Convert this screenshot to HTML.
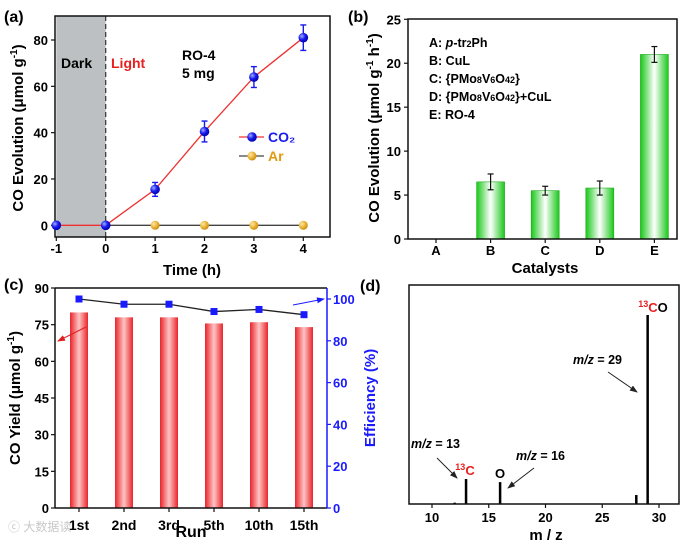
<!DOCTYPE html>
<html><head><meta charset="utf-8">
<style>
html,body{margin:0;padding:0;background:#fff;}
svg{display:block;font-family:"Liberation Sans",Arial,sans-serif;font-weight:bold;}
</style></head>
<body>
<svg id="fig" width="684" height="545" viewBox="0 0 684 545" xmlns="http://www.w3.org/2000/svg">
<defs>
<linearGradient id="gg" x1="0" x2="1" y1="0" y2="0">
<stop offset="0" stop-color="#19c819"/><stop offset="0.5" stop-color="#ffffff"/><stop offset="1" stop-color="#19c819"/>
</linearGradient>
<linearGradient id="rg" x1="0" x2="1" y1="0" y2="0">
<stop offset="0" stop-color="#e8242a"/><stop offset="0.5" stop-color="#ffc4c4"/><stop offset="1" stop-color="#e8242a"/>
</linearGradient>
<marker id="ar" markerWidth="8" markerHeight="6" refX="7" refY="3" orient="auto"><path d="M0,0 L8,3 L0,6 z" fill="#222"/></marker>
<marker id="arR" markerWidth="8" markerHeight="6" refX="7" refY="3" orient="auto"><path d="M0,0 L8,3 L0,6 z" fill="#e02020"/></marker>
<marker id="arB" markerWidth="8" markerHeight="6" refX="7" refY="3" orient="auto"><path d="M0,0 L8,3 L0,6 z" fill="#1a1aff"/></marker>
<radialGradient id="bb" cx="0.35" cy="0.35" r="0.7"><stop offset="0" stop-color="#9db0ff"/><stop offset="0.5" stop-color="#1a1aee"/><stop offset="1" stop-color="#0000aa"/></radialGradient>
<radialGradient id="ob" cx="0.35" cy="0.35" r="0.7"><stop offset="0" stop-color="#ffe9a8"/><stop offset="0.6" stop-color="#e8b030"/><stop offset="1" stop-color="#c68a10"/></radialGradient>
</defs>
<g id="pa"></g>
<g id="pb"></g>
<g id="pc"></g>
<g id="pd"></g>
</svg>
<script>
// Panel (a) data
const aTimes = [-1, 0, 1, 2, 3, 4];
const aCO2 = [0, 0, 15.5, 40.5, 64, 81];
const aCO2Err = [0, 0, 3, 4.5, 4.5, 5.5];
const aArTimes = [1, 2, 3, 4];
const aAr = [0, 0, 0, 0];
const aXTicks = [-1, 0, 1, 2, 3, 4];
const aYTicks = [0, 20, 40, 60, 80];
// Panel (b) data
const bCats = ["A", "B", "C", "D", "E"];
const bVals = [0, 6.5, 5.5, 5.8, 21];
const bErr = [0, 0.9, 0.5, 0.8, 0.9];
const bYTicks = [0, 5, 10, 15, 20, 25];
// Panel (c) data
const cRuns = ["1st", "2nd", "3rd", "5th", "10th", "15th"];
const cYield = [80, 78, 78, 75.5, 76, 74];
const cEff = [100, 97.5, 97.5, 94, 95, 92.5];
const cYTicks = [0, 15, 30, 45, 60, 75, 90];
const cY2Ticks = [0, 20, 40, 60, 80, 100];
// Panel (d) data
const dMz = [12, 13, 16, 28, 29];
const dInt = [0.006, 0.114, 0.10, 0.041, 0.863];
const dXTicks = [10, 15, 20, 25, 30];

const NS = "http://www.w3.org/2000/svg";
function mk(parent, tag, attrs, text) {
  const e = document.createElementNS(NS, tag);
  for (const k in attrs) e.setAttribute(k, attrs[k]);
  if (text !== undefined) e.textContent = text;
  parent.appendChild(e);
  return e;
}
function lin(d0, d1, r0, r1) { return v => r0 + (v - d0) * (r1 - r0) / (d1 - d0); }

// ---------- Panel A ----------
(function () {
  const g = document.getElementById('pa');
  const L = 55, R = 330, T = 16, B = 237;
  const x = lin(-1, 4, 56.3, 303.3), y = lin(0, 80, 225.3, 40);
  let e = mk(g, 'rect', { x: x(-1), y: T, width: x(0) - x(-1), height: B - T, fill: '#bcc0c2' });
   
  e = mk(g, 'line', { x1: x(0), x2: x(0), y1: T, y2: B, stroke: '#333', 'stroke-width': 1.2, 'stroke-dasharray': '5,3' });
   
  e = mk(g, 'rect', { x: L, y: T, width: R - L, height: B - T, fill: 'none', stroke: '#111', 'stroke-width': 1.5 });
   
  aXTicks.forEach(t => {
    mk(g, 'line', { x1: x(t), x2: x(t), y1: B, y2: B + 4, stroke: '#111', 'stroke-width': 1.2 });
    const tx = mk(g, 'text', { x: x(t), y: B + 16, 'font-size': 13, 'text-anchor': 'middle' }, t);
     
  });
  aYTicks.forEach(t => {
    mk(g, 'line', { x1: L - 4, x2: L, y1: y(t), y2: y(t), stroke: '#111', 'stroke-width': 1.2 });
    const tx = mk(g, 'text', { x: L - 7, y: y(t) + 5, 'font-size': 13, 'text-anchor': 'end' }, t);
     
  });
  let pts = [[0, 0]].concat(aArTimes.map((t, i) => [t, aAr[i]]));
  e = mk(g, 'polyline', { points: pts.map(p => x(p[0]) + ',' + y(p[1])).join(' '), fill: 'none', stroke: '#444', 'stroke-width': 1.3 });
   
  e = mk(g, 'polyline', { points: aTimes.map((t, i) => x(t) + ',' + y(aCO2[i])).join(' '), fill: 'none', stroke: '#f03030', 'stroke-width': 1.3 });
   
  aArTimes.forEach((t, i) => {
    const c = mk(g, 'circle', { cx: x(t), cy: y(aAr[i]), r: 4.5, fill: 'url(#ob)' });
     
  });
  aTimes.forEach((t, i) => {
    if (aCO2Err[i] > 0) {
      const cx = x(t), y1 = y(aCO2[i] + aCO2Err[i]), y2 = y(aCO2[i] - aCO2Err[i]);
      mk(g, 'line', { x1: cx, x2: cx, y1: y1, y2: y2, stroke: '#1a1aee', 'stroke-width': 1.4 });
      mk(g, 'line', { x1: cx - 3, x2: cx + 3, y1: y1, y2: y1, stroke: '#1a1aee', 'stroke-width': 1.4 });
      mk(g, 'line', { x1: cx - 3, x2: cx + 3, y1: y2, y2: y2, stroke: '#1a1aee', 'stroke-width': 1.4 });
    }
    const c = mk(g, 'circle', { cx: x(t), cy: y(aCO2[i]), r: 4.8, fill: 'url(#bb)' });
     
  });
  mk(g, 'line', { x1: 239, x2: 264, y1: 137, y2: 137, stroke: '#f03030', 'stroke-width': 1.3 });
  mk(g, 'circle', { cx: 252, cy: 137, r: 4.8, fill: 'url(#bb)' });
  e = mk(g, 'text', { x: 268, y: 142, 'font-size': 14, fill: '#1a1aee' }, 'CO₂');
   
  mk(g, 'line', { x1: 239, x2: 264, y1: 156, y2: 156, stroke: '#444', 'stroke-width': 1.3 });
  mk(g, 'circle', { cx: 252, cy: 156, r: 4.5, fill: 'url(#ob)' });
  e = mk(g, 'text', { x: 268, y: 161, 'font-size': 14, fill: '#e09a10' }, 'Ar');
   
  e = mk(g, 'text', { x: 61, y: 68, 'font-size': 14 }, 'Dark');  
  e = mk(g, 'text', { x: 111, y: 68, 'font-size': 14, fill: '#e82020' }, 'Light');  
  e = mk(g, 'text', { x: 182, y: 60, 'font-size': 14 }, 'RO-4');  
  e = mk(g, 'text', { x: 182, y: 78, 'font-size': 14 }, '5 mg');  
  e = mk(g, 'text', { x: 4, y: 22, 'font-size': 16 }, '(a)');  
  e = mk(g, 'text', { x: 192, y: 275, 'font-size': 15, 'text-anchor': 'middle' }, 'Time (h)');  
  e = mk(g, 'text', { x: 0, y: 0, 'font-size': 15, 'text-anchor': 'middle', transform: 'translate(23,128) rotate(-90)' });
  e.innerHTML = 'CO Evolution (μmol g<tspan dy="-6" font-size="10">-1</tspan><tspan dy="6">)</tspan>';
   
})();

// ---------- Panel B ----------
(function () {
  const g = document.getElementById('pb');
  const L = 408, R = 677, T = 19, B = 239;
  const y = lin(0, 25, 239, 19.3);
  const x = i => 436 + i * 54.6;
  let e;
  bVals.forEach((v, i) => {
    if (v > 0) {
      e = mk(g, 'rect', { x: x(i) - 14, y: y(v), width: 28, height: y(0) - y(v), fill: 'url(#gg)', stroke: '#22aa22', 'stroke-width': 0.6 });
       
      const y1 = y(v + bErr[i]), y2 = y(v - bErr[i]);
      mk(g, 'line', { x1: x(i), x2: x(i), y1: y1, y2: y2, stroke: '#111', 'stroke-width': 1.2 });
      mk(g, 'line', { x1: x(i) - 3, x2: x(i) + 3, y1: y1, y2: y1, stroke: '#111', 'stroke-width': 1.2 });
      mk(g, 'line', { x1: x(i) - 3, x2: x(i) + 3, y1: y2, y2: y2, stroke: '#111', 'stroke-width': 1.2 });
    }
    mk(g, 'line', { x1: x(i), x2: x(i), y1: B, y2: B + 4, stroke: '#111', 'stroke-width': 1.2 });
    e = mk(g, 'text', { x: x(i), y: B + 16, 'font-size': 13, 'text-anchor': 'middle' }, bCats[i]);
     
  });
  e = mk(g, 'rect', { x: L, y: T, width: R - L, height: B - T, fill: 'none', stroke: '#111', 'stroke-width': 1.5 });
   
  bYTicks.forEach(t => {
    mk(g, 'line', { x1: L - 4, x2: L, y1: y(t), y2: y(t), stroke: '#111', 'stroke-width': 1.2 });
    const tx = mk(g, 'text', { x: L - 7, y: y(t) + 5, 'font-size': 13, 'text-anchor': 'end' }, t);
     
  });
  const leg = ['A: <tspan font-style="italic">p</tspan>-tr<tspan font-size="9">2</tspan>Ph', 'B: CuL',
    'C: {PMo<tspan font-size="9">8</tspan>V<tspan font-size="9">6</tspan>O<tspan font-size="9">42</tspan>}',
    'D: {PMo<tspan font-size="9">8</tspan>V<tspan font-size="9">6</tspan>O<tspan font-size="9">42</tspan>}+CuL', 'E: RO-4'];
  leg.forEach((s, i) => {
    const t = mk(g, 'text', { x: 429, y: 47 + i * 18, 'font-size': 12.5 });
    t.innerHTML = s;
     
  });
  e = mk(g, 'text', { x: 348, y: 22, 'font-size': 16 }, '(b)');  
  e = mk(g, 'text', { x: 545, y: 273, 'font-size': 15, 'text-anchor': 'middle' }, 'Catalysts');  
  e = mk(g, 'text', { x: 0, y: 0, 'font-size': 15, 'text-anchor': 'middle', transform: 'translate(379,128) rotate(-90)' });
  e.innerHTML = 'CO Evolution (μmol g<tspan dy="-6" font-size="10">-1</tspan><tspan dy="6"> h</tspan><tspan dy="-6" font-size="10">-1</tspan><tspan dy="6">)</tspan>';
   
})();

// ---------- Panel C ----------
(function () {
  const g = document.getElementById('pc');
  const L = 55, R = 327, T = 288, B = 508;
  const y = lin(0, 90, 508, 288), y2 = lin(0, 100, 508, 299);
  const x = i => 79 + i * 45;
  let e;
  cYield.forEach((v, i) => {
    e = mk(g, 'rect', { x: x(i) - 9, y: y(v), width: 18, height: y(0) - y(v), fill: 'url(#rg)' });
     
    mk(g, 'line', { x1: x(i), x2: x(i), y1: B, y2: B + 4, stroke: '#111', 'stroke-width': 1.2 });
    const t = mk(g, 'text', { x: x(i), y: B + 22, 'font-size': 14, 'text-anchor': 'middle' }, cRuns[i]);
     
  });
  e = mk(g, 'polyline', { points: cEff.map((v, i) => x(i) + ',' + y2(v)).join(' '), fill: 'none', stroke: '#222', 'stroke-width': 1.3 });
   
  cEff.forEach((v, i) => {
    const r = mk(g, 'rect', { x: x(i) - 3.5, y: y2(v) - 3.5, width: 7, height: 7, fill: '#1a1aff' });
     
  });
  mk(g, 'line', { x1: L, x2: R, y1: B, y2: B, stroke: '#111', 'stroke-width': 1.5 });
  mk(g, 'line', { x1: L, x2: R, y1: T, y2: T, stroke: '#111', 'stroke-width': 1.5 });
  mk(g, 'line', { x1: L, x2: L, y1: T, y2: B, stroke: '#111', 'stroke-width': 1.5 });
  e = mk(g, 'line', { x1: R, x2: R, y1: T, y2: B, stroke: '#1a1aff', 'stroke-width': 1.5 });
   
  cYTicks.forEach(t => {
    mk(g, 'line', { x1: L - 4, x2: L, y1: y(t), y2: y(t), stroke: '#111', 'stroke-width': 1.2 });
    const tx = mk(g, 'text', { x: L - 6, y: y(t) + 5, 'font-size': 13, 'text-anchor': 'end' }, t);
     
  });
  cY2Ticks.forEach(t => {
    mk(g, 'line', { x1: R, x2: R + 4, y1: y2(t), y2: y2(t), stroke: '#1a1aff', 'stroke-width': 1.2 });
    const tx = mk(g, 'text', { x: R + 6, y: y2(t) + 5, 'font-size': 13, fill: '#1a1aff' }, t);
     
  });
  mk(g, 'line', { x1: 86, x2: 58, y1: 327, y2: 341, stroke: '#e02020', 'stroke-width': 1, 'marker-end': 'url(#arR)' });
  mk(g, 'line', { x1: 293, x2: 324, y1: 305, y2: 299, stroke: '#1a1aff', 'stroke-width': 1, 'marker-end': 'url(#arB)' });
  e = mk(g, 'text', { x: 4, y: 290, 'font-size': 16 }, '(c)');  
  e = mk(g, 'text', { x: 191, y: 537, 'font-size': 16, 'text-anchor': 'middle' }, 'Run');  
  e = mk(g, 'text', { x: 0, y: 0, 'font-size': 15, 'text-anchor': 'middle', transform: 'translate(20,398) rotate(-90)' });
  e.innerHTML = 'CO Yield (μmol g<tspan dy="-6" font-size="10">-1</tspan><tspan dy="6">)</tspan>';
   
  e = mk(g, 'text', { x: 0, y: 0, 'font-size': 15, 'text-anchor': 'middle', fill: '#1a1aff', transform: 'translate(375,398) rotate(-90)' }, 'Efficiency (%)');
   
  e = mk(g, 'text', { x: 8, y: 531, 'font-size': 12, fill: '#c8c8c8', 'font-weight': 'normal' });
  e.textContent = 'ⓒ 大数据读';
  e.setAttribute('font-family', '"Liberation Sans","Noto Sans CJK SC",sans-serif');
   
})();

// ---------- Panel D ----------
(function () {
  const g = document.getElementById('pd');
  const L = 409, R = 679, T = 285, B = 504;
  const x = lin(10, 30, 432, 659), y = lin(0, 1, 504, 285);
  let e;
  dMz.forEach((m, i) => {
    e = mk(g, 'line', { x1: x(m), x2: x(m), y1: y(0), y2: y(dInt[i]), stroke: '#000', 'stroke-width': 2.5 });
     
  });
  e = mk(g, 'rect', { x: L, y: T, width: R - L, height: B - T, fill: 'none', stroke: '#111', 'stroke-width': 1.5 });
   
  dXTicks.forEach(t => {
    mk(g, 'line', { x1: x(t), x2: x(t), y1: B, y2: B + 4, stroke: '#111', 'stroke-width': 1.2 });
    const tx = mk(g, 'text', { x: x(t), y: B + 18, 'font-size': 13, 'text-anchor': 'middle' }, t);
     
  });
  e = mk(g, 'text', { x: 546, y: 540, 'font-size': 15, 'text-anchor': 'middle' }, 'm / z');  
  e = mk(g, 'text', { x: 360, y: 291, 'font-size': 16 }, '(d)');  
  e = mk(g, 'text', { x: 653, y: 312, 'font-size': 13, 'text-anchor': 'middle' });
  e.innerHTML = '<tspan fill="#e82020" font-size="9" dy="-5">13</tspan><tspan fill="#e82020" dy="5">C</tspan>O';
   
  e = mk(g, 'text', { x: 465, y: 475, 'font-size': 13, 'text-anchor': 'middle' });
  e.innerHTML = '<tspan fill="#e82020" font-size="9" dy="-5">13</tspan><tspan fill="#e82020" dy="5">C</tspan>';
   
  e = mk(g, 'text', { x: x(16), y: 478, 'font-size': 13, 'text-anchor': 'middle' }, 'O');
   
  e = mk(g, 'text', { x: 573, y: 364, 'font-size': 12.5 }); e.innerHTML = '<tspan font-style="italic">m/z</tspan> = 29';
   
  e = mk(g, 'text', { x: 411, y: 448, 'font-size': 12.5 }); e.innerHTML = '<tspan font-style="italic">m/z</tspan> = 13';
   
  e = mk(g, 'text', { x: 516, y: 460, 'font-size': 12.5 }); e.innerHTML = '<tspan font-style="italic">m/z</tspan> = 16';
   
  mk(g, 'line', { x1: 608, x2: 637, y1: 372, y2: 392, stroke: '#222', 'stroke-width': 1, 'marker-end': 'url(#ar)' });
  mk(g, 'line', { x1: 437, x2: 457, y1: 458, y2: 478, stroke: '#222', 'stroke-width': 1, 'marker-end': 'url(#ar)' });
  mk(g, 'line', { x1: 534, x2: 508, y1: 468, y2: 488, stroke: '#222', 'stroke-width': 1, 'marker-end': 'url(#ar)' });
})();
</script>
</body></html>
